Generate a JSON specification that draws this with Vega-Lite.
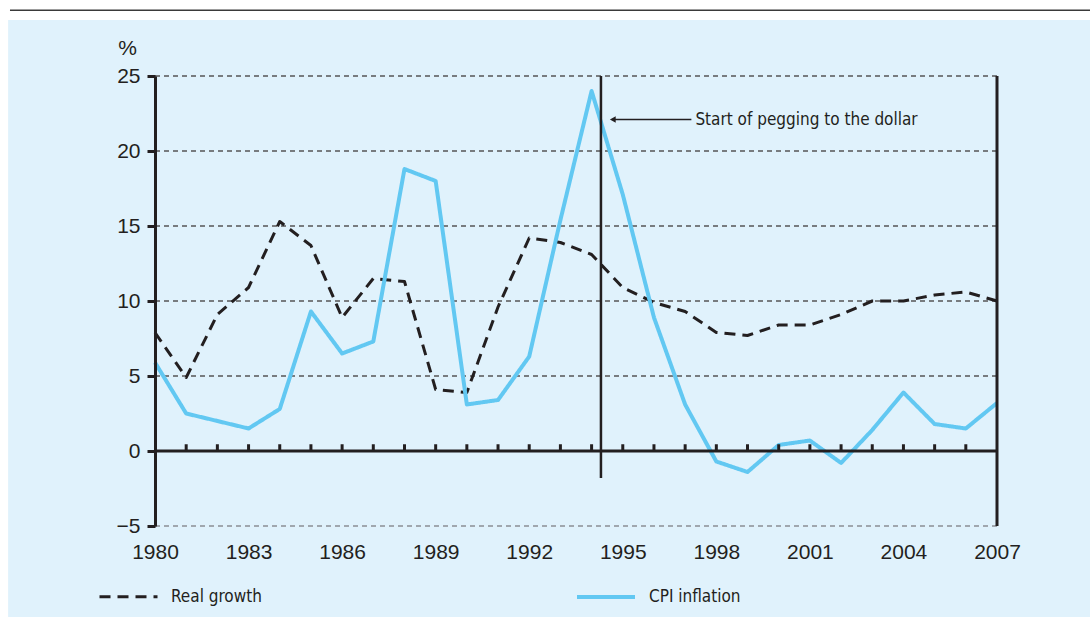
{
  "$schema": "https://vega.github.io/schema/vega-lite/v6.json",
  "autosize": "none",
  "width": 842,
  "height": 450,
  "padding": {"left": 155, "top": 76, "right": 93, "bottom": 91},
  "background": "#FFFFFF",
  "datasets": {
    "series": [
      {"year": 1980, "series": "Real growth", "value": 7.9},
      {"year": 1981, "series": "Real growth", "value": 4.9},
      {"year": 1982, "series": "Real growth", "value": 9.1},
      {"year": 1983, "series": "Real growth", "value": 10.9},
      {"year": 1984, "series": "Real growth", "value": 15.3},
      {"year": 1985, "series": "Real growth", "value": 13.7},
      {"year": 1986, "series": "Real growth", "value": 8.9},
      {"year": 1987, "series": "Real growth", "value": 11.5},
      {"year": 1988, "series": "Real growth", "value": 11.3},
      {"year": 1989, "series": "Real growth", "value": 4.1},
      {"year": 1990, "series": "Real growth", "value": 3.9},
      {"year": 1991, "series": "Real growth", "value": 9.6},
      {"year": 1992, "series": "Real growth", "value": 14.2},
      {"year": 1993, "series": "Real growth", "value": 13.9},
      {"year": 1994, "series": "Real growth", "value": 13.1},
      {"year": 1995, "series": "Real growth", "value": 10.9},
      {"year": 1996, "series": "Real growth", "value": 9.9},
      {"year": 1997, "series": "Real growth", "value": 9.3},
      {"year": 1998, "series": "Real growth", "value": 7.9},
      {"year": 1999, "series": "Real growth", "value": 7.7},
      {"year": 2000, "series": "Real growth", "value": 8.4},
      {"year": 2001, "series": "Real growth", "value": 8.4},
      {"year": 2002, "series": "Real growth", "value": 9.1},
      {"year": 2003, "series": "Real growth", "value": 10.0},
      {"year": 2004, "series": "Real growth", "value": 10.0},
      {"year": 2005, "series": "Real growth", "value": 10.4},
      {"year": 2006, "series": "Real growth", "value": 10.6},
      {"year": 2007, "series": "Real growth", "value": 10.0},
      {"year": 1980, "series": "CPI inflation", "value": 5.9},
      {"year": 1981, "series": "CPI inflation", "value": 2.5},
      {"year": 1982, "series": "CPI inflation", "value": 2.0},
      {"year": 1983, "series": "CPI inflation", "value": 1.5},
      {"year": 1984, "series": "CPI inflation", "value": 2.8},
      {"year": 1985, "series": "CPI inflation", "value": 9.3},
      {"year": 1986, "series": "CPI inflation", "value": 6.5},
      {"year": 1987, "series": "CPI inflation", "value": 7.3},
      {"year": 1988, "series": "CPI inflation", "value": 18.8},
      {"year": 1989, "series": "CPI inflation", "value": 18.0},
      {"year": 1990, "series": "CPI inflation", "value": 3.1},
      {"year": 1991, "series": "CPI inflation", "value": 3.4},
      {"year": 1992, "series": "CPI inflation", "value": 6.3},
      {"year": 1993, "series": "CPI inflation", "value": 15.4},
      {"year": 1994, "series": "CPI inflation", "value": 24.0},
      {"year": 1995, "series": "CPI inflation", "value": 17.1},
      {"year": 1996, "series": "CPI inflation", "value": 8.9},
      {"year": 1997, "series": "CPI inflation", "value": 3.1},
      {"year": 1998, "series": "CPI inflation", "value": -0.7},
      {"year": 1999, "series": "CPI inflation", "value": -1.4},
      {"year": 2000, "series": "CPI inflation", "value": 0.4},
      {"year": 2001, "series": "CPI inflation", "value": 0.7},
      {"year": 2002, "series": "CPI inflation", "value": -0.8},
      {"year": 2003, "series": "CPI inflation", "value": 1.4},
      {"year": 2004, "series": "CPI inflation", "value": 3.9},
      {"year": 2005, "series": "CPI inflation", "value": 1.8},
      {"year": 2006, "series": "CPI inflation", "value": 1.5},
      {"year": 2007, "series": "CPI inflation", "value": 3.2}
    ],
    "grid": [{"v": -5}, {"v": 5}, {"v": 10}, {"v": 15}, {"v": 20}, {"v": 25}],
    "note": [{"label": "Start of pegging to the dollar"}]
  },
  "config": {
    "view": {"stroke": null},
    "font": "Liberation Sans",
    "legend": {
      "orient": "none",
      "legendX": -57,
      "legendY": 490,
      "direction": "horizontal",
      "symbolType": "stroke",
      "symbolSize": 3364,
      "labelFont": "'DejaVu Sans Condensed', Roboto, sans-serif",
      "labelFontSize": 17,
      "labelColor": "#231f20",
      "labelOffset": 12,
      "columnPadding": 307,
      "padding": 0
    }
  },
  "layer": [
    {
      "data": {"name": "note"},
      "mark": {"type": "rect", "color": "#E0F2FC"},
      "encoding": {
        "x": {"datum": 1975.29},
        "x2": {"datum": 2011},
        "y": {"datum": 28.73},
        "y2": {"datum": -12}
      }
    },
    {
      "data": {"name": "note"},
      "mark": {"type": "rule", "color": "#3a3a3a", "strokeWidth": 1.5},
      "encoding": {
        "x": {"datum": 1975.35},
        "x2": {"datum": 2011},
        "y": {"datum": 29.39}
      }
    },
    {
      "data": {"name": "grid"},
      "mark": {"type": "rule", "strokeDash": [5, 4], "strokeWidth": 1.5},
      "encoding": {
        "y": {"field": "v", "type": "quantitative"},
        "color": {"condition": {"test": "datum.v === -5", "value": "#8a8f94"}, "value": "#555555"}
      }
    },
    {
      "data": {"name": "series"},
      "mark": {"type": "line", "strokeCap": "butt", "strokeJoin": "round"},
      "encoding": {
        "x": {
          "field": "year",
          "type": "quantitative",
          "scale": {"domain": [1980, 2007], "nice": false, "zero": false},
          "axis": {
            "title": null,
            "values": [1980, 1983, 1986, 1989, 1992, 1995, 1998, 2001, 2004, 2007],
            "format": "d",
            "grid": false,
            "domain": false,
            "ticks": false,
            "zindex": 1,
            "labelFlush": false,
            "labelOverlap": false,
            "labelPadding": 15,
            "labelFontSize": 21,
            "labelColor": "#231f20",
            "labelFont": "Liberation Sans"
          }
        },
        "y": {
          "field": "value",
          "type": "quantitative",
          "scale": {"domain": [-5, 25], "nice": false, "zero": false},
          "axis": {
            "title": "%",
            "titleAngle": 0,
            "titleX": -28,
            "titleY": -28,
            "titleAlign": "center",
            "titleBaseline": "middle",
            "titleFontSize": 21,
            "titleFontWeight": "normal",
            "titleColor": "#231f20",
            "titleFont": "Liberation Sans",
            "values": [-5, 0, 5, 10, 15, 20, 25],
            "format": "d",
            "zindex": 1,
            "domainColor": "#231f20",
            "domainWidth": 3,
            "tickColor": "#231f20",
            "tickWidth": 3,
            "tickSize": 8,
            "labelPadding": 7,
            "labelFontSize": 21,
            "labelColor": "#231f20",
            "labelFont": "Liberation Sans",
            "labelFlush": false,
            "grid": false
          }
        },
        "color": {
          "field": "series",
          "type": "nominal",
          "title": null,
          "scale": {"domain": ["Real growth", "CPI inflation"], "range": ["#231f20", "#62C8F2"]}
        },
        "strokeDash": {
          "field": "series",
          "type": "nominal",
          "title": null,
          "scale": {"domain": ["Real growth", "CPI inflation"], "range": [[11, 7], [1, 0]]}
        },
        "strokeWidth": {
          "field": "series",
          "type": "nominal",
          "title": null,
          "scale": {"domain": ["Real growth", "CPI inflation"], "range": [3, 4]}
        },
        "order": {"field": "year", "type": "quantitative"}
      }
    },
    {
      "data": {"values": [{"v": 0}]},
      "mark": {"type": "rule", "color": "#231f20", "strokeWidth": 3},
      "encoding": {"y": {"field": "v", "type": "quantitative"}}
    },
    {
      "data": {"name": "series"},
      "transform": [{"filter": "datum.series === 'CPI inflation' && datum.year > 1980 && datum.year < 2007"}],
      "mark": {"type": "rule", "color": "#231f20", "strokeWidth": 3},
      "encoding": {
        "x": {"field": "year", "type": "quantitative"},
        "y": {"datum": 0},
        "y2": {"datum": 0.45}
      }
    },
    {
      "data": {"name": "note"},
      "mark": {"type": "rule", "color": "#231f20", "strokeWidth": 3},
      "encoding": {
        "x": {"datum": 2007},
        "y": {"datum": -5},
        "y2": {"datum": 25}
      }
    },
    {
      "data": {"name": "note"},
      "mark": {"type": "rule", "color": "#231f20", "strokeWidth": 2.5},
      "encoding": {
        "x": {"datum": 1994.3},
        "y": {"datum": 25},
        "y2": {"datum": -1.8}
      }
    },
    {
      "data": {"name": "note"},
      "mark": {"type": "rule", "color": "#231f20", "strokeWidth": 1.3},
      "encoding": {
        "x": {"datum": 1994.75},
        "x2": {"datum": 1997.2},
        "y": {"datum": 22.1}
      }
    },
    {
      "data": {"name": "note"},
      "mark": {"type": "point", "shape": "triangle-left", "filled": true, "color": "#231f20", "size": 45, "opacity": 1},
      "encoding": {
        "x": {"datum": 1994.68},
        "y": {"datum": 22.1}
      }
    },
    {
      "data": {"name": "note"},
      "mark": {"type": "text", "align": "left", "baseline": "middle", "font": "'DejaVu Sans Condensed', Roboto, sans-serif", "fontSize": 17, "color": "#231f20", "dx": 4},
      "encoding": {
        "x": {"datum": 1997.2},
        "y": {"datum": 22.1},
        "text": {"field": "label"}
      }
    }
  ]
}
